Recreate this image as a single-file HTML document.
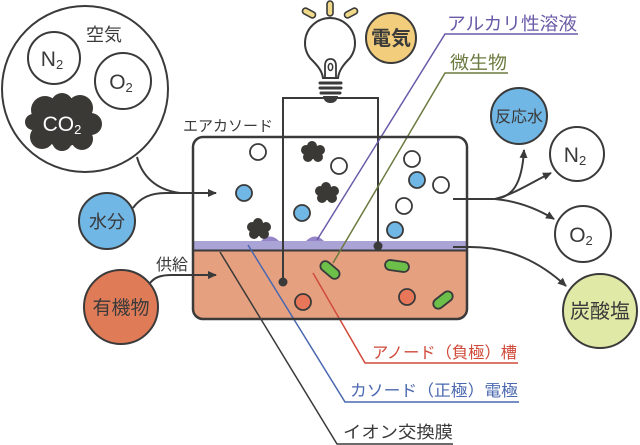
<!DOCTYPE html>
<html><head><meta charset="utf-8">
<style>
html,body{margin:0;padding:0;background:#fff;}
svg{display:block;}
text{font-family:"Liberation Sans","Noto Sans CJK JP",sans-serif;fill:#3a3a3a;}
</style></head>
<body>
<svg width="640" height="445" viewBox="0 0 640 445" xmlns="http://www.w3.org/2000/svg">
<defs>
<marker id="ah" markerWidth="10" markerHeight="10" refX="8" refY="5" orient="auto" markerUnits="userSpaceOnUse">
<path d="M0,1 L9,5 L0,9 Z" fill="#3a3a3a"/>
</marker>
</defs>

<!-- Air bubble -->
<circle cx="85" cy="89" r="83" fill="#fff" stroke="#3a3a3a" stroke-width="2"/>
<text x="104" y="41" font-size="18" text-anchor="middle">空気</text>
<circle cx="54" cy="58" r="26" fill="#fff" stroke="#3a3a3a" stroke-width="2"/>
<text x="52" y="66" font-size="21" text-anchor="middle">N<tspan font-size="13" dy="3">2</tspan></text>
<circle cx="123" cy="81" r="28" fill="#fff" stroke="#3a3a3a" stroke-width="2"/>
<text x="121" y="89" font-size="21" text-anchor="middle">O<tspan font-size="13" dy="3">2</tspan></text>
<g fill="#3b3935">
<circle cx="63" cy="123" r="24"/>
<circle cx="45" cy="110" r="14"/>
<circle cx="62" cy="104" r="11"/>
<circle cx="80" cy="108" r="13"/>
<circle cx="91" cy="124" r="11"/>
<circle cx="82" cy="139" r="11"/>
<circle cx="62" cy="141" r="10"/>
<circle cx="42" cy="137" r="12"/>
<circle cx="33" cy="122" r="8"/>
</g>
<text x="62" y="131" font-size="21" text-anchor="middle" style="fill:#fff">CO<tspan font-size="13" dy="3">2</tspan></text>

<!-- Light bulb -->
<g stroke="#3a3a3a" stroke-width="1.6" fill="#f1d98a" stroke-linecap="round">
<rect x="302" y="10" width="14" height="6" rx="3" transform="rotate(28 309 13)"/>
<rect x="327" y="1" width="6" height="15" rx="3"/>
<rect x="344" y="10" width="14" height="6" rx="3" transform="rotate(-28 351 13)"/>
</g>
<path d="M323 78 C322 70 316 64 310 58 A25 25 0 1 1 350 58 C344 64 339 70 338 78 Z" fill="#fff" stroke="#3a3a3a" stroke-width="2"/>
<path d="M325 79 L325 66 Q325 59 330.5 59 Q336 59 336 66 L336 79" fill="none" stroke="#3a3a3a" stroke-width="1.8"/>
<ellipse cx="330.5" cy="67" rx="2.2" ry="3.5" fill="none" stroke="#3a3a3a" stroke-width="1.5"/>
<g stroke="#3a3a3a" stroke-width="3" stroke-linecap="round">
<line x1="320" y1="83" x2="341" y2="83"/>
<line x1="320" y1="88" x2="341" y2="88"/>
<line x1="321" y1="93" x2="340" y2="93"/>
</g>
<path d="M323 96 L338 96 Q337 103 330.5 103 Q324 103 323 96 Z" fill="#3a3a3a"/>

<!-- 電気 -->
<circle cx="391" cy="38" r="25" fill="#f2cd7c" stroke="#3a3a3a" stroke-width="2"/>
<text x="391" y="45" font-size="20" font-weight="bold" text-anchor="middle">電気</text>

<!-- Tank fills -->
<rect x="193" y="137" width="274" height="182" rx="10" fill="#e5a07f"/>
<path d="M193 241 L193 147 Q193 137 203 137 L457 137 Q467 137 467 147 L467 241 Z" fill="#fff"/>
<rect x="193" y="241" width="274" height="9" fill="#aaa3d6"/>
<line x1="193" y1="250.5" x2="467" y2="250.5" stroke="#3a3a3a" stroke-width="2"/>

<!-- purple bumps -->
<path d="M261 241 Q270 232 279 241 Z" fill="#9585c8"/>
<path d="M306 241 Q315 232 324 241 Z" fill="#9585c8"/>

<!-- circuit -->
<path d="M283 282 L283 98 L378 98 L378 246" fill="none" stroke="#3a3a3a" stroke-width="2"/>

<!-- particles upper -->
<g stroke="#3a3a3a" stroke-width="1.8">
<circle cx="258" cy="152" r="8" fill="#fff"/>
<circle cx="339" cy="166" r="8" fill="#fff"/>
<circle cx="412" cy="159" r="8" fill="#fff"/>
<circle cx="441" cy="185" r="8" fill="#fff"/>
<circle cx="404" cy="206" r="8" fill="#fff"/>
<circle cx="244" cy="193" r="8" fill="#71b7e6"/>
<circle cx="302" cy="213" r="8" fill="#71b7e6"/>
<circle cx="417" cy="180" r="8" fill="#71b7e6"/>
<circle cx="395" cy="230" r="8" fill="#71b7e6"/>
</g>
<g fill="#3b3935">
<circle cx="313" cy="152" r="7"/><circle cx="306" cy="150" r="5"/><circle cx="320" cy="150" r="5"/><circle cx="312" cy="146" r="5"/><circle cx="308" cy="157" r="5"/><circle cx="318" cy="157" r="5"/>
<circle cx="327" cy="193" r="7"/><circle cx="320" cy="191" r="5"/><circle cx="334" cy="191" r="5"/><circle cx="326" cy="187" r="5"/><circle cx="322" cy="198" r="5"/><circle cx="332" cy="198" r="5"/>
<circle cx="259" cy="229" r="7"/><circle cx="252" cy="227" r="5"/><circle cx="266" cy="227" r="5"/><circle cx="258" cy="223" r="5"/><circle cx="254" cy="234" r="5"/><circle cx="264" cy="234" r="5"/>
</g>

<!-- particles lower -->
<g stroke="#3a3a3a" stroke-width="1.8">
<circle cx="303" cy="302" r="8" fill="#e8775a"/>
<circle cx="407" cy="297" r="8" fill="#e8775a"/>
<rect x="319" y="265" width="22" height="10" rx="5" fill="#6cc04a" transform="rotate(40 330 270)"/>
<rect x="385" y="261" width="24" height="10" rx="5" fill="#6cc04a" transform="rotate(8 397 266)"/>
<rect x="432" y="295" width="22" height="10" rx="5" fill="#6cc04a" transform="rotate(-38 443 300)"/>
</g>

<!-- leader lines -->
<g fill="none" stroke-width="1.5">
<polyline points="578,34 445,34 317,240" stroke="#6a5aa8"/>
<polyline points="508,73 445,73 333,263" stroke="#6b7a40"/>
<polyline points="518,363 365,363 313,273" stroke="#d04a3a"/>
<polyline points="519,402 345,402 248,245" stroke="#4a68b0"/>
<polyline points="453,444 337,444 220,252" stroke="#3a3a3a"/>
</g>

<!-- dots -->
<circle cx="283" cy="282" r="4.5" fill="#3a3a3a"/>
<circle cx="378" cy="246" r="4.5" fill="#3a3a3a"/>

<!-- Tank outline -->
<rect x="193" y="137" width="274" height="182" rx="10" fill="none" stroke="#3a3a3a" stroke-width="2.5"/>

<text x="183" y="131" font-size="15" textLength="90" lengthAdjust="spacingAndGlyphs">エアカソード</text>

<!-- left inputs -->
<path d="M137 157 C142 176 156 190 180 193" fill="none" stroke="#3a3a3a" stroke-width="2"/>
<path d="M133 208 C140 198 150 193 166 193 L216 193" fill="none" stroke="#3a3a3a" stroke-width="2" marker-end="url(#ah)"/>
<circle cx="107" cy="221" r="28" fill="#71b7e6" stroke="#3a3a3a" stroke-width="2"/>
<text x="107" y="228" font-size="18" text-anchor="middle">水分</text>

<path d="M150 283 C155 277 161 275 172 275 L216 275" fill="none" stroke="#3a3a3a" stroke-width="2" marker-end="url(#ah)"/>
<text x="156" y="270" font-size="16" textLength="32" lengthAdjust="spacingAndGlyphs">供給</text>
<circle cx="121" cy="307" r="37" fill="#e07b58" stroke="#3a3a3a" stroke-width="2"/>
<text x="121" y="314" font-size="19" text-anchor="middle">有機物</text>

<!-- right outputs -->
<g fill="none" stroke="#3a3a3a" stroke-width="2">
<path d="M453 199 L495 199"/>
<path d="M495 199 C512 197 522 185 524 150" marker-end="url(#ah)"/>
<path d="M495 199 C515 194 532 182 551 173" marker-end="url(#ah)"/>
<path d="M495 199 C517 201 536 208 554 219" marker-end="url(#ah)"/>
<path d="M453 247 L470 247 C510 247 540 262 566 286" marker-end="url(#ah)"/>
</g>
<circle cx="519" cy="116" r="28" fill="#71b7e6" stroke="#3a3a3a" stroke-width="2"/>
<text x="519" y="122" font-size="16" text-anchor="middle">反応水</text>
<circle cx="577" cy="154" r="27" fill="#fff" stroke="#3a3a3a" stroke-width="2"/>
<text x="575" y="162" font-size="21" text-anchor="middle">N<tspan font-size="13" dy="3">2</tspan></text>
<circle cx="583" cy="234" r="28" fill="#fff" stroke="#3a3a3a" stroke-width="2"/>
<text x="581" y="242" font-size="21" text-anchor="middle">O<tspan font-size="13" dy="3">2</tspan></text>
<circle cx="600" cy="311" r="37" fill="#e1e9a6" stroke="#3a3a3a" stroke-width="2"/>
<text x="600" y="318" font-size="20" text-anchor="middle">炭酸塩</text>

<!-- labels -->
<text x="447" y="30" font-size="18" textLength="130" lengthAdjust="spacingAndGlyphs" style="fill:#6a5aa8">アルカリ性溶液</text>
<text x="450" y="69" font-size="18" textLength="57" lengthAdjust="spacingAndGlyphs" style="fill:#6b7a40">微生物</text>
<text x="372" y="358" font-size="16" textLength="145" lengthAdjust="spacingAndGlyphs" style="fill:#d04a3a">アノード（負極）槽</text>
<text x="350" y="396" font-size="16" textLength="168" lengthAdjust="spacingAndGlyphs" style="fill:#4a68b0">カソード（正極）電極</text>
<text x="343" y="438" font-size="17" textLength="110" lengthAdjust="spacingAndGlyphs">イオン交換膜</text>
</svg>
</body></html>
